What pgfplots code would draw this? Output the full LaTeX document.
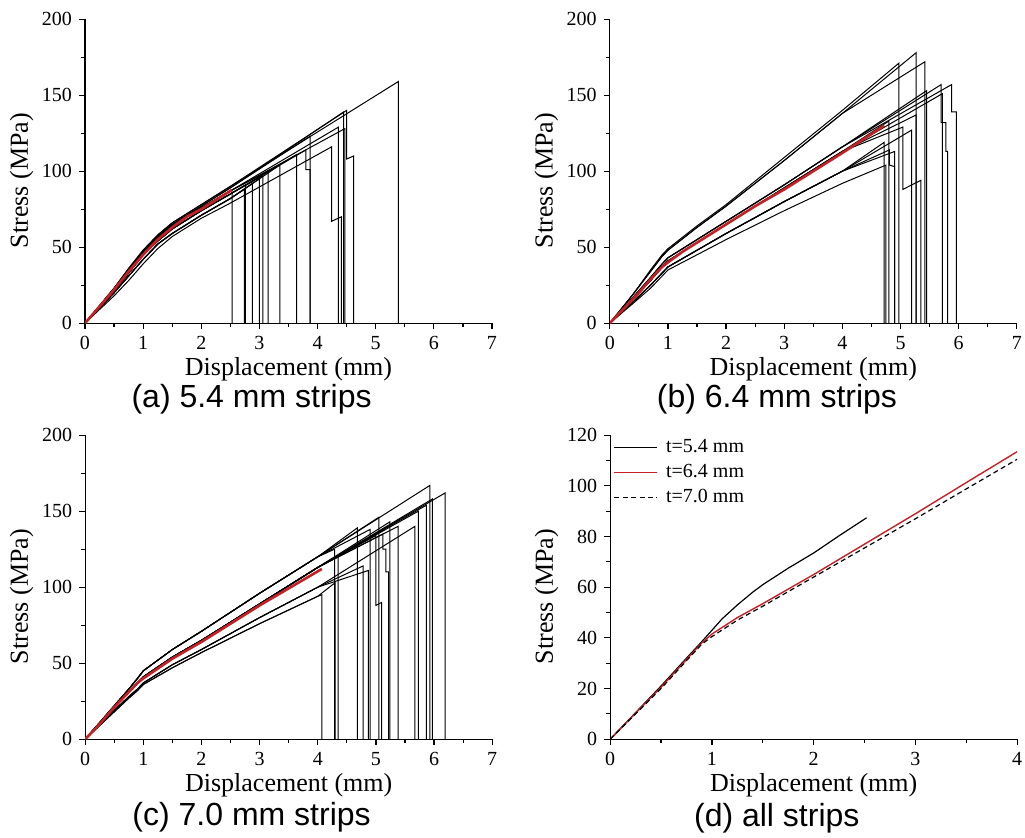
\documentclass[border=0pt]{standalone}
\usepackage{fontspec}
\setmainfont{Liberation Serif}
\setsansfont{Liberation Sans}
\usepackage{pgfplots}
\pgfplotsset{compat=1.18}
\definecolor{meanred}{HTML}{C42126}
\pgfplotsset{
  panel/.style={
    scale only axis, width=203.5pt, height=152pt, anchor=south west,
    axis x line*=bottom, axis y line*=left,
    tick align=outside,
    xmin=0, xmax=7, ymin=0, ymax=200,
    xtick={0,1,...,7}, ytick={0,50,...,200},
    minor x tick num=1, minor y tick num=1,
    major tick length=3pt, minor tick length=2pt,
    tick style={black, line width=0.6pt},
    axis line style={black, line width=0.6pt},
    /pgf/number format/assume math mode=true,
    tick label style={font=\fontsize{10}{12}\selectfont},
    label style={font=\fontsize{13}{15}\selectfont},
    xlabel={Displacement (mm)}, ylabel={Stress (MPa)},
    xlabel style={at={(axis description cs:0.5,-0.150)}, anchor=center},
    ylabel style={at={(axis description cs:-0.156,0.469)}, anchor=center},
  },
  blk/.style={black, line width=0.5pt},
  mean/.style={meanred, line width=1.3pt},
}
\begin{document}
\begin{tikzpicture}
\useasboundingbox (0,0) rectangle (512.5pt,419pt);

% (a) 5.4 mm strips
\begin{axis}[panel, at={(42.5pt,257.4pt)}]
\addplot[blk] coordinates {(0,0)(0.5,23)(0.75,36)(1,48)(1.25,58)(1.5,66)(2,78)(2.5,90)(5.39,159)(5.39,0)};
\addplot[blk] coordinates {(0,0)(0.5,23)(0.75,35)(1,47)(1.25,57)(1.5,65)(2,77)(2.5,89)(4.45,139)(4.45,0)};
\addplot[blk] coordinates {(0,0)(0.5,23)(0.75,36)(1,48)(1.25,58)(1.5,66)(2,78)(2.5,90)(4.50,140)(4.50,108)(4.62,110)(4.62,0)};
\addplot[blk] coordinates {(0,0)(0.5,23)(0.75,35)(1,47)(1.25,57)(1.5,65)(2,77)(2.5,89)(3.87,123)(3.87,0)};
\addplot[blk] coordinates {(0,0)(0.5,22)(0.75,34)(1,46)(1.25,56)(1.5,64)(2,76)(2.5,87)(4.36,129)(4.36,0)};
\addplot[blk] coordinates {(0,0)(0.5,22)(0.75,34)(1,46)(1.25,56)(1.5,64)(2,76)(2.5,87)(4.47,128)(4.47,0)};
\addplot[blk] coordinates {(0,0)(0.5,21)(0.75,33)(1,45)(1.25,54)(1.5,62)(2,74)(2.5,85)(3.80,114)(3.80,101)(3.87,101)(3.87,0)};
\addplot[blk] coordinates {(0,0)(0.5,21)(0.75,33)(1,45)(1.25,54)(1.5,62)(2,74)(2.5,85)(3.64,111)(3.64,0)};
\addplot[blk] coordinates {(0,0)(0.5,20)(0.75,31)(1,42)(1.25,52)(1.5,59)(2,71)(2.5,82)(3.35,104)(3.35,0)};
\addplot[blk] coordinates {(0,0)(0.5,22)(0.75,34)(1,46)(1.25,56)(1.5,64)(2,76)(2.5,87)(3.15,100)(3.15,0)};
\addplot[blk] coordinates {(0,0)(0.5,21)(0.75,33)(1,45)(1.25,54)(1.5,62)(2,74)(2.5,85)(3.06,97)(3.06,0)};
\addplot[blk] coordinates {(0,0)(0.5,20)(0.75,31)(1,42)(1.25,52)(1.5,59)(2,71)(2.5,82)(3.00,95)(3.00,0)};
\addplot[blk] coordinates {(0,0)(0.5,20)(0.75,31)(1,42)(1.25,52)(1.5,59)(2,71)(2.5,82)(2.88,92)(2.88,0)};
\addplot[blk] coordinates {(0,0)(0.5,21)(0.75,33)(1,45)(1.25,54)(1.5,62)(2,74)(2.5,85)(2.76,91)(2.76,0)};
\addplot[blk] coordinates {(0,0)(0.5,20)(0.75,31)(1,42)(1.25,52)(1.5,59)(2,71)(2.5,82)(2.74,88)(2.74,0)};
\addplot[blk] coordinates {(0,0)(0.5,21)(0.75,33)(1,45)(1.25,54)(1.5,62)(2,74)(2.5,85)(2.53,86)(2.53,0)};
\addplot[blk] coordinates {(0,0)(0.5,18)(0.75,28)(1,39)(1.25,49)(1.5,57)(2,69)(2.5,79)(4.24,116)(4.24,67)(4.41,70)(4.41,0)};
\addplot[mean] coordinates {(0,0)(0.25,11)(0.5,22)(0.75,34)(1,45)(1.25,55)(1.5,63)(1.75,70)(2,75)(2.25,81)(2.52,87.5)};
\end{axis}

% (b) 6.4 mm strips
\begin{axis}[panel, at={(304.9pt,257.4pt)}]
\addplot[blk] coordinates {(0,0)(0.4,19)(0.7,34)(0.9,44)(1,48)(1.5,63)(2,77)(3,107)(4,138)(5.27,178)(5.27,0)};
\addplot[blk] coordinates {(0,0)(0.4,19)(0.7,35)(0.9,45)(1,49)(1.5,64)(2,78)(3,109)(4,140)(4.97,171)(4.97,0)};
\addplot[blk] coordinates {(0,0)(0.4,19)(0.7,34)(0.9,44)(1,48)(1.5,63)(2,77)(3,107)(4,138)(5.42,172)(5.42,0)};
\addplot[blk] coordinates {(0,0)(0.4,17)(0.7,30)(0.9,39)(1,43)(1.5,55)(2,67)(3,91)(4,116)(5.70,157)(5.70,132)(5.78,132)(5.78,113)(5.81,113)(5.81,0)};
\addplot[blk] coordinates {(0,0)(0.4,17)(0.7,30)(0.9,39)(1,43)(1.5,55)(2,67)(3,91)(4,116)(5.88,157)(5.88,139)(5.96,139)(5.96,0)};
\addplot[blk] coordinates {(0,0)(0.4,16)(0.7,28)(0.9,37)(1,41)(1.5,53)(2,65)(3,89)(4,113)(5.72,151)(5.72,0)};
\addplot[blk] coordinates {(0,0)(0.4,17)(0.7,30)(0.9,39)(1,43)(1.5,55)(2,67)(3,91)(4,116)(5.45,153)(5.45,0)};
\addplot[blk] coordinates {(0,0)(0.4,16)(0.7,28)(0.9,37)(1,41)(1.5,53)(2,65)(3,89)(4,113)(4.80,133)(4.80,0)};
\addplot[blk] coordinates {(0,0)(0.4,16)(0.7,28)(0.9,37)(1,41)(1.5,53)(2,65)(3,89)(4,113)(5.04,129)(5.04,88)(5.35,94)(5.35,0)};
\addplot[blk] coordinates {(0,0)(0.4,14)(0.7,25)(0.9,33)(1,37)(1.5,48)(2,59)(3,80)(4,100)(5.19,127)(5.19,0)};
\addplot[blk] coordinates {(0,0)(0.4,16)(0.7,28)(0.9,37)(1,41)(1.5,53)(2,65)(3,89)(4,113)(5.27,137)(5.27,0)};
\addplot[blk] coordinates {(0,0)(0.4,14)(0.7,25)(0.9,33)(1,37)(1.5,48)(2,59)(3,80)(4,100)(4.72,119)(4.72,0)};
\addplot[blk] coordinates {(0,0)(0.4,14)(0.7,25)(0.9,33)(1,37)(1.5,48)(2,59)(3,80)(4,100)(4.81,114)(4.81,104)(4.90,103)(4.90,0)};
\addplot[blk] coordinates {(0,0)(0.4,13)(0.7,23)(0.9,31)(1,35)(1.5,45)(2,55)(3,74)(4,92)(4.75,104)(4.75,0)};
\addplot[blk] coordinates {(0,0)(0.4,14)(0.7,25)(0.9,33)(1,37)(1.5,48)(2,59)(3,80)(4,100)(4.90,113)(4.90,0)};
\addplot[mean] coordinates {(0,0)(0.25,10)(0.5,20)(0.75,31)(0.9,37)(1,40)(1.25,47)(1.5,53)(2,65)(2.5,77)(3,88)(3.5,100)(4,112)(4.72,130)};
\end{axis}

% (c) 7.0 mm strips
\begin{axis}[panel, at={(42.6pt,49.4pt)}]
\addplot[blk] coordinates {(0,0)(0.5,22)(0.75,33)(0.9,40)(1,45)(1.5,59)(2,71)(3,96)(4,120)(5.93,167)(5.93,0)};
\addplot[blk] coordinates {(0,0)(0.5,21)(0.75,31)(0.9,37)(1,41)(1.5,54)(2,65)(3,89)(4,113)(6.19,162)(6.19,0)};
\addplot[blk] coordinates {(0,0)(0.5,21)(0.75,31)(0.9,37)(1,41)(1.5,54)(2,65)(3,89)(4,113)(5.97,158)(5.97,0)};
\addplot[blk] coordinates {(0,0)(0.5,21)(0.75,31)(0.9,37)(1,41)(1.5,54)(2,65)(3,89)(4,113)(5.73,150)(5.73,0)};
\addplot[blk] coordinates {(0,0)(0.5,19)(0.75,28)(0.9,33)(1,37)(1.5,49)(2,59)(3,80)(4,100)(5.67,140)(5.67,0)};
\addplot[blk] coordinates {(0,0)(0.5,22)(0.75,33)(0.9,40)(1,45)(1.5,59)(2,71)(3,96)(4,120)(4.68,139)(4.68,0)};
\addplot[blk] coordinates {(0,0)(0.5,22)(0.75,33)(0.9,40)(1,45)(1.5,59)(2,71)(3,96)(4,120)(4.90,138)(4.90,0)};
\addplot[blk] coordinates {(0,0)(0.5,22)(0.75,33)(0.9,40)(1,45)(1.5,59)(2,71)(3,96)(4,120)(5.05,146)(5.05,0)};
\addplot[blk] coordinates {(0,0)(0.5,21)(0.75,31)(0.9,37)(1,41)(1.5,54)(2,65)(3,89)(4,113)(5.24,143)(5.24,0)};
\addplot[blk] coordinates {(0,0)(0.5,21)(0.75,31)(0.9,37)(1,41)(1.5,54)(2,65)(3,89)(4,113)(5.38,140)(5.38,0)};
\addplot[blk] coordinates {(0,0)(0.5,21)(0.75,31)(0.9,37)(1,41)(1.5,54)(2,65)(3,89)(4,113)(5.00,134)(5.00,88)(5.10,90)(5.10,0)};
\addplot[blk] coordinates {(0,0)(0.5,21)(0.75,31)(0.9,37)(1,41)(1.5,54)(2,65)(3,89)(4,113)(5.12,135)(5.12,125)(5.17,125)(5.17,110)(5.22,110)(5.22,0)};
\addplot[blk] coordinates {(0,0)(0.5,18)(0.75,27)(0.9,32)(1,36)(1.5,47)(2,57)(3,76)(4,94)(4.07,95)(4.07,0)};
\addplot[blk] coordinates {(0,0)(0.5,22)(0.75,33)(0.9,40)(1,45)(1.5,59)(2,71)(3,96)(4,120)(4.29,125)(4.29,0)};
\addplot[blk] coordinates {(0,0)(0.5,21)(0.75,31)(0.9,37)(1,41)(1.5,54)(2,65)(3,89)(4,113)(4.35,121)(4.35,0)};
\addplot[blk] coordinates {(0,0)(0.5,18)(0.75,27)(0.9,32)(1,36)(1.5,47)(2,57)(3,76)(4,94)(4.30,103)(4.30,0)};
\addplot[blk] coordinates {(0,0)(0.5,19)(0.75,28)(0.9,33)(1,37)(1.5,49)(2,59)(3,80)(4,100)(4.78,114)(4.78,0)};
\addplot[blk] coordinates {(0,0)(0.5,19)(0.75,28)(0.9,33)(1,37)(1.5,49)(2,59)(3,80)(4,100)(4.87,111)(4.87,0)};
\addplot[blk] coordinates {(0,0)(0.5,21)(0.75,31)(0.9,37)(1,41)(1.5,54)(2,65)(3,89)(4,113)(5.87,154)(5.87,0)};
\addplot[mean] coordinates {(0,0)(0.25,10)(0.5,21)(0.75,31)(0.9,37)(1,40)(1.5,53)(2,64)(3,88)(4.07,112)};
\end{axis}

% (d) all strips
\begin{axis}[panel, at={(305.1pt,49.4pt)},
  xmax=4, ymax=120, xtick={0,1,...,4}, ytick={0,20,...,120},
  legend cell align=left,
  legend image code/.code={\draw[#1] (0pt,0pt) -- (21.5pt,0pt);},
  legend style={at={(axis description cs:-0.007,1.011)}, anchor=north west,
    draw=none, fill=none, font=\fontsize{10}{12}\selectfont,
    row sep=1.5pt, nodes={inner sep=1pt, text height=7pt, text depth=2pt},
    /tikz/every odd column/.append style={column sep=3pt}},
]
\addplot[black, line width=0.6pt] coordinates {(0,0)(0.25,10.5)(0.5,21)(0.75,32)(0.9,38.5)(1,43)(1.1,47.5)(1.25,53)(1.4,58)(1.5,61)(1.75,67.5)(2,73.5)(2.25,80.3)(2.52,87.4)};
\addlegendentry{t=5.4 mm}
\addplot[meanred, line width=0.7pt] coordinates {(0,0)(0.25,10.3)(0.5,20.5)(0.75,31.5)(0.9,38)(1,41.5)(1.25,48)(1.5,53.5)(2,65)(2.5,77)(3,89)(3.5,101.3)(4,113.5)};
\addlegendentry{t=6.4 mm}
\addplot[black, line width=0.6pt, dash pattern=on 2.5pt off 1.7pt] coordinates {(0,0)(0.25,10)(0.5,20)(0.75,31)(0.9,37.5)(1,40.5)(1.25,47)(1.5,52.5)(2,64)(2.5,75.5)(3,87)(3.5,98.8)(4,110.5)};
\addlegendentry{t=7.0 mm}
\end{axis}

\node[font=\sffamily\fontsize{16}{19}\selectfont] at (125.8pt,219.5pt) {(a) 5.4 mm strips};
\node[font=\sffamily\fontsize{16}{19}\selectfont] at (388.5pt,219.5pt) {(b) 6.4 mm strips};
\node[font=\sffamily\fontsize{16}{19}\selectfont] at (125.8pt,10.5pt) {(c) 7.0 mm strips};
\node[font=\sffamily\fontsize{16}{19}\selectfont] at (388.4pt,10pt) {(d) all strips};
\end{tikzpicture}
\end{document}
